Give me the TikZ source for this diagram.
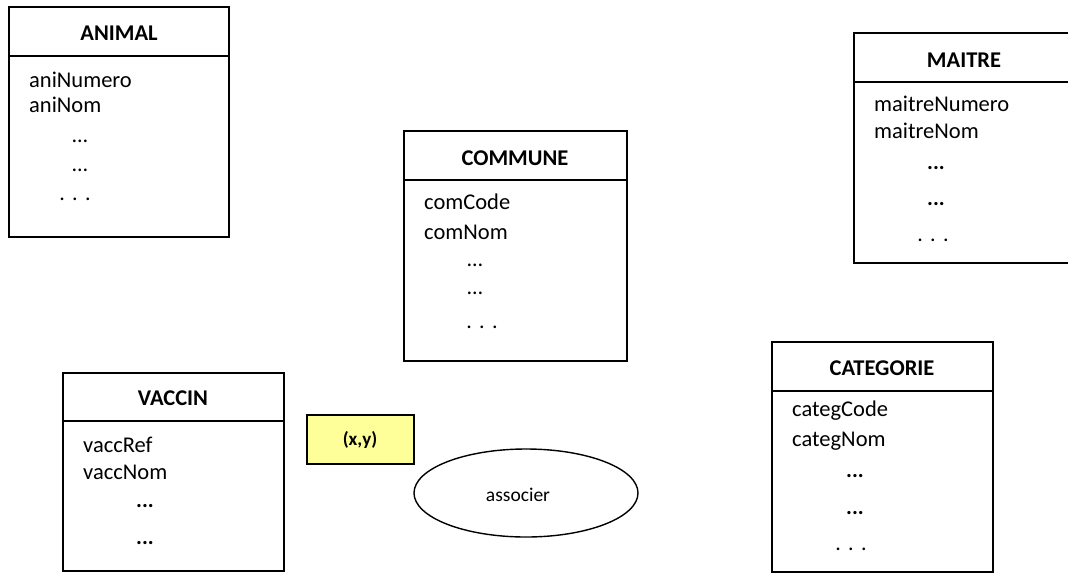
\documentclass[tikz,border=0pt]{standalone}
\usepackage{fontspec}
\setmainfont{Carlito}
\usetikzlibrary{shapes.geometric}
\tikzset{
  ent/.style={draw=black, line width=1.4pt, fill=white},
  sep/.style={line width=1.4pt},
  ttl/.style={font=\fontsize{22.5}{26}\selectfont\bfseries, inner sep=0pt},
  attr/.style={font=\fontsize{22.5}{26}\selectfont, anchor=west, inner sep=0pt},
  dots/.style={font=\fontsize{22}{26}\selectfont, inner sep=0pt},
  bdots/.style={font=\fontsize{22}{26}\selectfont\bfseries, inner sep=0pt},
}
\begin{document}
\begin{tikzpicture}[x=1pt,y=-1pt]
\useasboundingbox (0,0) rectangle (1068,576);
\clip (0,0) rectangle (1068,576);

% ANIMAL
\draw[ent] (9,7) rectangle (229,237);
\coordinate (anL) at (9,56); \coordinate (anR) at (229,56);
\draw[sep] (anL) -- (anR);
\node[ttl] (anT) at (119,33) {ANIMAL};
\node[attr] (an1) at (29,80) {aniNumero};
\node[attr] (an2) at (29,105) {aniNom};
\node[dots] (an3) at (80,141) {…};
\node[dots] (an4) at (80,170) {…};
\node[dots] (an5) at (75,199) {.\,\,.\,\,.};

% COMMUNE
\draw[ent] (404,131) rectangle (627,361);
\coordinate (coL) at (404,180); \coordinate (coR) at (627,180);
\draw[sep] (coL) -- (coR);
\node[ttl] (coT) at (515,158) {COMMUNE};
\node[attr] (co1) at (424,202) {comCode};
\node[attr] (co2) at (424,232) {comNom};
\node[dots] (co3) at (475,265) {…};
\node[dots] (co4) at (475,293) {…};
\node[dots] (co5) at (482,327) {.\,\,.\,\,.};

% MAITRE
\draw[ent] (854,33) rectangle (1075,263);
\coordinate (maL) at (854,82); \coordinate (maR) at (1075,82);
\draw[sep] (maL) -- (maR);
\node[ttl] (maT) at (964,60) {MAITRE};
\node[attr] (ma1) at (874,104) {maitreNumero};
\node[attr] (ma2) at (874,131) {maitreNom};
\node[bdots] (ma3) at (936,168) {...};
\node[bdots] (ma4) at (936,204) {...};
\node[dots] (ma5) at (933,240) {.\,\,.\,\,.};

% VACCIN
\draw[ent] (63,373) rectangle (284,571);
\coordinate (vaL) at (63,421); \coordinate (vaR) at (284,421);
\draw[sep] (vaL) -- (vaR);
\node[ttl] (vaT) at (173,398) {VACCIN};
\node[attr] (va1) at (83,445) {vaccRef};
\node[attr] (va2) at (83,472) {vaccNom};
\node[bdots] (va3) at (145,506) {...};
\node[bdots] (va4) at (145,543) {...};

% CATEGORIE
\draw[ent] (772,342) rectangle (993,572);
\coordinate (caL) at (772,391); \coordinate (caR) at (993,391);
\draw[sep] (caL) -- (caR);
\node[ttl] (caT) at (882,368) {CATEGORIE};
\node[attr] (ca1) at (792,411) {categCode};
\node[attr] (ca2) at (792,441) {categNom};
\node[bdots] (ca3) at (855,476) {...};
\node[bdots] (ca4) at (855,513) {...};
\node[dots] (ca5) at (851,549) {.\,\,.\,\,.};

% (x,y)
\draw[draw=black, line width=1.4pt, fill={rgb,255:red,255;green,255;blue,153}] (307,415) rectangle (414,464);
\node[font=\fontsize{19}{22}\selectfont\bfseries, inner sep=0pt] (xy) at (360,440) {(x,y)};

% associer
\draw[line width=1.4pt] (526,493) ellipse [x radius=112, y radius=44];
\node[font=\fontsize{19.5}{23}\selectfont, inner sep=0pt] (as) at (518,495) {associer};
\end{tikzpicture}
\end{document}
